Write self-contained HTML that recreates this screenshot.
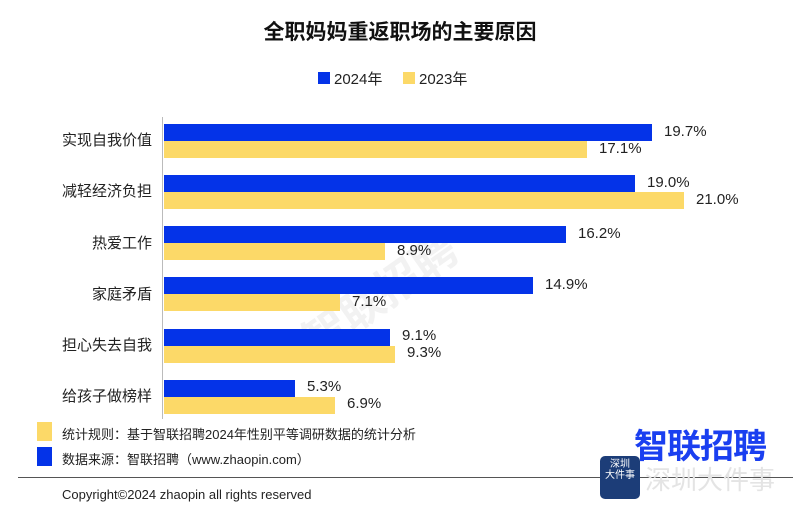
<!DOCTYPE html>
<html><head><meta charset="utf-8"><style>
body{margin:0;width:800px;height:513px;background:#fff;position:relative;overflow:hidden;font-family:"Liberation Sans","Noto Sans CJK SC",sans-serif;color:#222}
.a{position:absolute;white-space:nowrap}
.cat{position:absolute;right:648px;font-size:15px;line-height:20px}
.v{position:absolute;font-size:15px;line-height:18px;color:#222}
.b{position:absolute;left:164px;height:17px;background:#0433e8}
.y{position:absolute;left:164px;height:17px;background:#fcd968}
</style></head><body>
<div class="a" style="left:0;width:800px;text-align:center;top:16px;font-size:21px;font-weight:bold;color:#111">全职妈妈重返职场的主要原因</div>
<div class="a" style="left:318px;top:72px;width:12px;height:12px;background:#0433e8"></div>
<div class="a" style="left:334px;top:68px;font-size:15px">2024年</div>
<div class="a" style="left:403px;top:72px;width:12px;height:12px;background:#fcd968"></div>
<div class="a" style="left:419px;top:68px;font-size:15px">2023年</div>
<div class="a" style="left:162px;top:117px;width:1px;height:302px;background:#bbb"></div>
<div class="a" style="left:290px;top:260px;font-size:44px;color:#f2f2f2;transform:rotate(-35deg);font-weight:bold">智联招聘</div>

<div class="cat" style="top:131px">实现自我价值</div>
<div class="b" style="top:124px;width:488px"></div><div class="y" style="top:141px;width:423px"></div>
<div class="v" style="left:664px;top:123px">19.7%</div><div class="v" style="left:599px;top:140px">17.1%</div>

<div class="cat" style="top:182px">减轻经济负担</div>
<div class="b" style="top:175px;width:471px"></div><div class="y" style="top:192px;width:520px"></div>
<div class="v" style="left:647px;top:174px">19.0%</div><div class="v" style="left:696px;top:191px">21.0%</div>

<div class="cat" style="top:234px">热爱工作</div>
<div class="b" style="top:226px;width:402px"></div><div class="y" style="top:243px;width:221px"></div>
<div class="v" style="left:578px;top:225px">16.2%</div><div class="v" style="left:397px;top:242px">8.9%</div>

<div class="cat" style="top:285px">家庭矛盾</div>
<div class="b" style="top:277px;width:369px"></div><div class="y" style="top:294px;width:176px"></div>
<div class="v" style="left:545px;top:276px">14.9%</div><div class="v" style="left:352px;top:293px">7.1%</div>

<div class="cat" style="top:336px">担心失去自我</div>
<div class="b" style="top:329px;width:226px"></div><div class="y" style="top:346px;width:231px"></div>
<div class="v" style="left:402px;top:327px">9.1%</div><div class="v" style="left:407px;top:344px">9.3%</div>

<div class="cat" style="top:387px">给孩子做榜样</div>
<div class="b" style="top:380px;width:131px"></div><div class="y" style="top:397px;width:171px"></div>
<div class="v" style="left:307px;top:378px">5.3%</div><div class="v" style="left:347px;top:395px">6.9%</div>

<div class="a" style="left:37px;top:422px;width:15px;height:19px;background:#fcd968"></div>
<div class="a" style="left:62px;top:424px;font-size:13px">统计规则：基于智联招聘2024年性别平等调研数据的统计分析</div>
<div class="a" style="left:37px;top:447px;width:15px;height:19px;background:#0433e8"></div>
<div class="a" style="left:62px;top:449px;font-size:13px">数据来源：智联招聘（www.zhaopin.com）</div>
<div class="a" style="left:18px;top:477px;width:775px;height:1px;background:#555"></div>
<div class="a" style="left:62px;top:487px;font-size:13px">Copyright©2024 zhaopin all rights reserved</div>
<div class="a" style="left:634px;top:419px;font-size:34px;font-weight:bold;color:#1a3ff0;letter-spacing:-1px">智联招聘</div>
<div class="a" style="left:600px;top:456px;width:40px;height:43px;background:#1c3d78;border-radius:5px;color:#fff;font-size:10px;line-height:11px;text-align:center;padding-top:3px;box-sizing:border-box">深圳<br>大件事</div>
<div class="a" style="left:645px;top:460px;font-size:26px;color:#e4e4e4">深圳大件事</div>
</body></html>
